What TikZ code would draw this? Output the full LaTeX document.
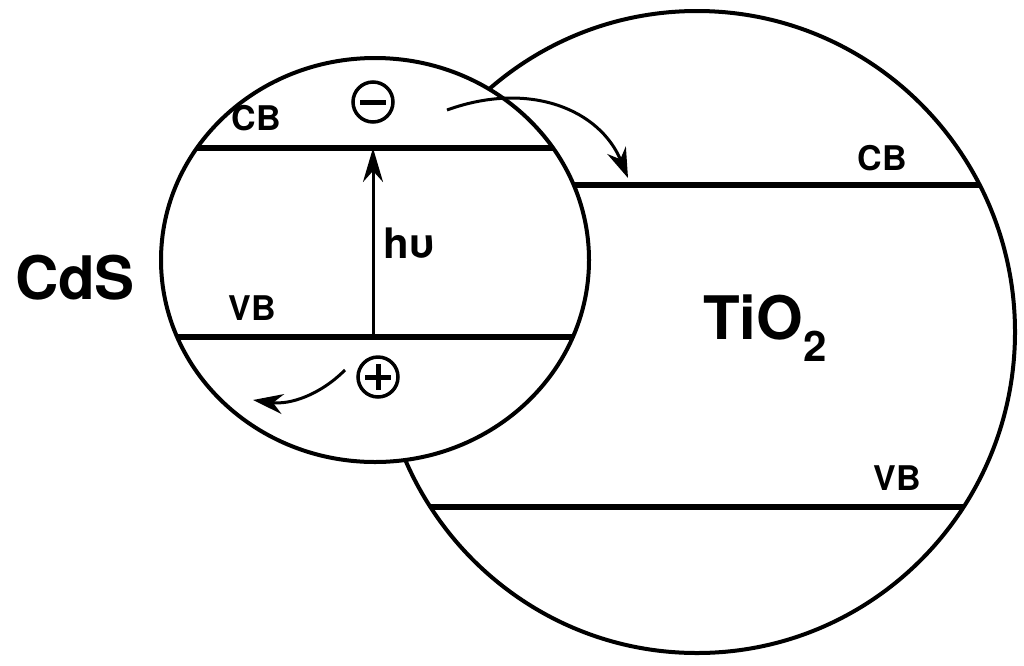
\documentclass[tikz,border=0pt]{standalone}
\usepackage{fontspec}
\setmainfont{TeX Gyre Heros}
\usetikzlibrary{arrows.meta}
\begin{document}
\begin{tikzpicture}[x=1pt,y=-1pt,
 band/.style={line width=5.5pt},
 rim/.style={line width=4pt},
 lbl/.style={font=\bfseries\fontsize{34}{34}\selectfont},
 big/.style={font=\bfseries\fontsize{60}{60}\selectfont},
 arr/.style={line width=3pt,-{Stealth[length=30pt,width=20pt]}}]
\useasboundingbox (0,0) rectangle (1024,665);
% TiO2
\begin{scope}
\clip (697,332) ellipse [x radius=318, y radius=321];
\draw[band] (400,185) -- (1020,185);
\draw[band] (380,507) -- (1020,507);
\end{scope}
\draw[rim] (697,332) ellipse [x radius=318, y radius=321];
% CdS
\fill[white] (375,260) ellipse [x radius=214, y radius=202];
\begin{scope}
\clip (375,260) ellipse [x radius=214, y radius=202];
\draw[band] (150,148) -- (600,148);
\draw[band] (150,337) -- (600,337);
\end{scope}
\draw[rim] (375,260) ellipse [x radius=214, y radius=202];
\node[lbl] (cb1) at (256,118) {CB};
\node[lbl] (vb1) at (252,308) {VB};
\node[big] (cds) at (75,278) {CdS};
\node[lbl] (cb2) at (882,158) {CB};
\node[lbl] (vb2) at (897,478) {VB};
\node[big] (tio) at (765,328) {TiO\textsubscript{2}};
\node[draw,circle,line width=3.5pt,minimum size=40pt,inner sep=0pt] (m) at (373,102) {};
\draw[line width=5pt] (360,102) -- (386,102);
\node[draw,circle,line width=3.5pt,minimum size=40pt,inner sep=0pt] (p) at (378,377) {};
\draw[line width=5pt] (365,377) -- (391,377) (378,364) -- (378,390);
\coordinate (vbp) at (373,337);
\coordinate (cbp) at (373,148);
\draw[line width=3pt,-{Stealth[length=34pt,width=20pt]}] (vbp) -- (cbp);
\node[lbl,anchor=west,font=\bfseries\fontsize{42}{42}\selectfont] (hv) at (380,243) {hυ};
\coordinate (e1) at (447,110);
\coordinate (e2) at (628,178);
\draw[arr] (e1) .. controls (530,80) and (600,110) .. (e2);
\coordinate (h1) at (345,370);
\coordinate (h2) at (253,400);
\draw[arr] (h1) .. controls (320,395) and (290,405) .. (h2);
\end{tikzpicture}
\end{document}
